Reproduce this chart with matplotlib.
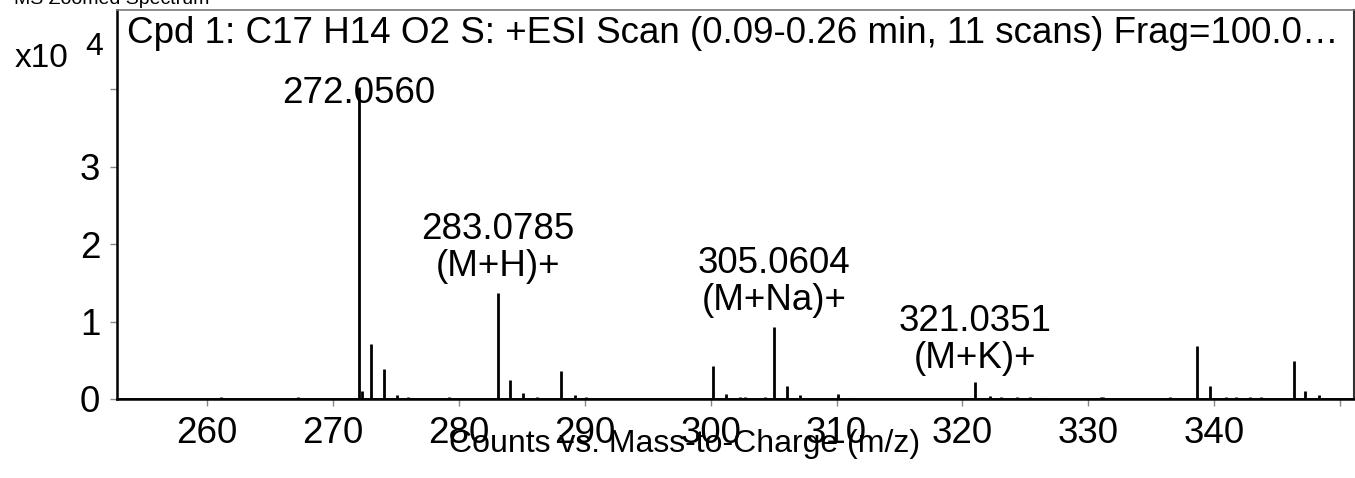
import matplotlib.pyplot as plt

plt.rcParams['font.family'] = ['Liberation Sans', 'DejaVu Sans']

# peak list (m/z, counts x10^4)
mz = [261.1, 267.2, 272.056, 272.3, 273.06, 274.05, 275.1, 276.0, 279.2,
      283.0785, 284.08, 285.1, 286.2, 288.1, 289.2, 290.1,
      300.15, 301.2, 302.3, 302.7, 304.3, 305.0604, 306.1, 307.1, 310.1, 311.1,
      321.0351, 322.2, 323.1, 324.3, 325.4, 326.2, 331.0, 331.2, 336.5,
      338.65, 339.7, 340.9, 341.7, 342.8, 343.7, 346.3, 347.2, 348.3]
counts = [0.02, 0.02, 4.03, 0.10, 0.71, 0.39, 0.05, 0.02, 0.03,
          1.37, 0.24, 0.08, 0.03, 0.36, 0.05, 0.03,
          0.42, 0.07, 0.03, 0.02, 0.02, 0.93, 0.17, 0.05, 0.07, 0.01,
          0.22, 0.04, 0.02, 0.03, 0.02, 0.01, 0.02, 0.02, 0.02,
          0.68, 0.17, 0.03, 0.02, 0.02, 0.02, 0.49, 0.10, 0.05]

# labelled peaks
lab_mz = [272.056, 283.0785, 305.0604, 321.0351]
lab_h = [4.03, 1.37, 0.93, 0.22]
lab_text = ['272.0560', '283.0785\n(M+H)+', '305.0604\n(M+Na)+', '321.0351\n(M+K)+']
lab_off = [-24, 9, 9, 6]

xticks = [260, 270, 280, 290, 300, 310, 320, 330, 340, 350]
yticks = [0, 1, 2, 3, 4]
ytick_labels = ['0', '1', '2', '3', '']

fig = plt.figure(figsize=(13.55, 4.78), dpi=100)
ax = fig.add_axes([117 / 1355, 1 - 399 / 478, (1354 - 117) / 1355, (399 - 10) / 478])

ax.vlines(mz, 0, counts, color='black', linewidth=2.0)
ax.axhline(0, color='black', linewidth=2.0)

for x, h, t, off in zip(lab_mz, lab_h, lab_text, lab_off):
    ax.annotate(t, xy=(x, h), xytext=(0, off * 0.72), textcoords='offset points',
                ha='center', va='bottom', fontsize=26.5, linespacing=1.08)

ax.set_xlim(252.85, 351.1)
ax.set_ylim(0, 5.02)
ax.set_xticks(xticks)
ax.set_xticklabels([str(v) for v in xticks][:-1] + [''])
ax.set_yticks(yticks)
ax.set_yticklabels(ytick_labels)
ax.tick_params(axis='both', direction='out', length=5, width=1, color='#888888',
               labelsize=26.5, pad=7)

for s in ['left', 'bottom']:
    ax.spines[s].set_linewidth(1.8)
    ax.spines[s].set_color('black')
ax.spines['right'].set_linewidth(1.5)
ax.spines['right'].set_color('#333333')
ax.spines['top'].set_linewidth(1.2)
ax.spines['top'].set_color('#777777')

ax.text(0.008, 0.985, 'Cpd 1: C17 H14 O2 S: +ESI Scan (0.09-0.26 min, 11 scans) Frag=100.0\u2026',
        transform=ax.transAxes, ha='left', va='top', fontsize=26.5)

fig.text(15 / 1355, 1 - 67 / 478, 'x10', fontsize=24, ha='left', va='baseline')
fig.text(85 / 1355, 1 - 55 / 478, '4', fontsize=23, ha='left', va='baseline')
fig.text(14 / 1355, 1 - 4 / 478, 'MS Zoomed Spectrum', fontsize=14, ha='left', va='baseline')
fig.text(685 / 1355, 1 - 452 / 478, 'Counts vs. Mass-to-Charge (m/z)', fontsize=23,
         ha='center', va='baseline')

fig.savefig('out.png', dpi=100)
